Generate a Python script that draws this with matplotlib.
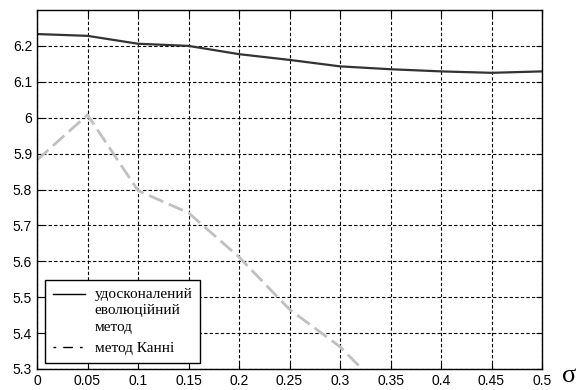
import numpy as np
import matplotlib
matplotlib.use("Agg")
import matplotlib.pyplot as plt
from matplotlib.lines import Line2D
from matplotlib.legend_handler import HandlerLine2D

#-------------------------------------------------------------------------------
# values

sigma = [0.0, 0.05, 0.1, 0.15, 0.2, 0.25, 0.3, 0.35, 0.4, 0.45, 0.5]
evolution = [6.233, 6.228, 6.206, 6.200, 6.177, 6.161, 6.143, 6.135, 6.129, 6.125, 6.129]

sigma_canny = [0.0, 0.05, 0.1, 0.15, 0.2, 0.25, 0.3, 0.35]
canny = [5.882, 6.008, 5.797, 5.735, 5.612, 5.466, 5.362, 5.22]

x_ticks = [0, 0.05, 0.1, 0.15, 0.2, 0.25, 0.3, 0.35, 0.4, 0.45, 0.5]
x_labels = ["0", "0.05", "0.1", "0.15", "0.2", "0.25", "0.3", "0.35", "0.4", "0.45", "0.5"]
y_ticks = [5.3, 5.4, 5.5, 5.6, 5.7, 5.8, 5.9, 6.0, 6.1, 6.2]
y_labels = ["5.3", "5.4", "5.5", "5.6", "5.7", "5.8", "5.9", "6", "6.1", "6.2"]

label_evo = "удосконалений\nеволюційний\nметод"
label_canny = "метод Канні"

#-------------------------------------------------------------------------------

class TopLineHandler(HandlerLine2D):
    # put the legend sample next to the first line of a multi-line label
    def __init__(self, shift, **kw):
        super().__init__(**kw)
        self.shift = shift

    def create_artists(self, legend, orig_handle, xdescent, ydescent,
                       width, height, fontsize, trans):
        artists = super().create_artists(legend, orig_handle, xdescent, ydescent,
                                         width, height, fontsize, trans)
        for a in artists:
            a.set_ydata(np.asarray(a.get_ydata()) + self.shift * fontsize)
        return artists

#-------------------------------------------------------------------------------

plt.rcParams['font.family'] = ['Liberation Sans', 'DejaVu Sans']

fig = plt.figure(figsize=(5.77, 3.90), dpi=100)
ax = fig.add_axes([37/577, 1 - 369/390, 505/577, 359/390])

ax.plot(sigma, evolution, color="#333333", linewidth=1.6)
ax.plot(sigma_canny, canny, color="#c0c0c0", linewidth=2.0,
        linestyle=(0, (5.5, 2.2)))

ax.set_xlim(0, 0.5)
ax.set_ylim(5.3, 6.3)
ax.set_xticks(x_ticks)
ax.set_xticklabels(x_labels, fontsize=10)
ax.set_yticks(y_ticks)
ax.set_yticklabels(y_labels, fontsize=10)
ax.tick_params(direction="in", length=4, top=True, right=True, width=0.8)
ax.grid(True, color="black", linestyle=(0, (3, 2)), linewidth=0.8)

for s in ax.spines.values():
    s.set_linewidth(1.0)

h_evo = Line2D([], [], color="black", linewidth=1.0)
h_canny = Line2D([], [], color="black", linewidth=1.0, linestyle=(0, (2, 5, 7, 5)))
leg = ax.legend([h_evo, h_canny], [label_evo, label_canny], loc="lower left",
                bbox_to_anchor=(0.016, 0.017), borderaxespad=0,
                fancybox=False, framealpha=1,
                edgecolor="black", handlelength=2.1, borderpad=0.5,
                labelspacing=0.5, handletextpad=0.65,
                handler_map={h_evo: TopLineHandler(1.1)},
                prop={"family": "Liberation Serif", "size": 11})
leg.get_texts()[0].set_linespacing(1.35)
leg.get_frame().set_linewidth(1.0)

fig.text(562/577, 1 - 382/390, "σ", family="Liberation Serif", fontsize=19,
         va="baseline", ha="left")

fig.savefig("out.png", dpi=100)
